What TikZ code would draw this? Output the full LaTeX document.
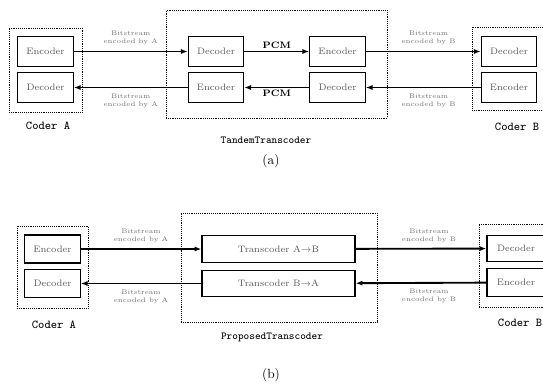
\documentclass[tikz,border=0pt]{standalone}
\usepackage{amsmath}
\usepackage{tikz}
\usetikzlibrary{arrows.meta,positioning,fit}

\begin{document}
\begin{tikzpicture}[
  x=0.75pt, y=-0.75pt,
  box/.style={draw, line width=0.9pt, inner sep=1pt, font=\scriptsize,
              text=black!65, minimum width=41.5pt, minimum height=23pt},
  wide/.style={box, minimum width=114.75pt, minimum height=20pt},
  frame/.style={draw, densely dotted, inner sep=0pt},
  arr/.style={-{Latex[length=1.8mm]}, line width=1.4pt},
  note/.style={align=center, font=\tiny, text=black!55, inner sep=1pt},
  pcm/.style={font=\scriptsize\bfseries, inner sep=1.5pt},
  coderlbl/.style={font=\small\ttfamily},
  sub/.style={font=\normalsize}
]
\useasboundingbox (0,0) rectangle (543,387);

% (a) tandem transcoding
\node[box] (encA) at (45.5,51.5) {Encoder};
\node[box] (decA) at (45.5,87.5) {Decoder};
\node[frame, fit={(9,28) (82,112)}] (frmA) {};
\node[coderlbl] (lblA) at (48,126) {Coder A};

\node[box] (tl) at (216,51.5) {Decoder};
\node[box] (bl) at (216,87.5) {Encoder};
\node[box] (tr) at (337.5,51.5) {Encoder};
\node[box] (br) at (337.5,87.5) {Decoder};
\node[frame, fit={(166,10) (387,118)}] (frmT) {};
\node[coderlbl, font=\footnotesize\ttfamily] (lblT) at (266,140) {TandemTranscoder};

\node[box] (decB) at (509,51.5) {Decoder};
\node[box] (encB) at (509,87.5) {Encoder};
\node[frame, fit={(472,27) (560,110)}] (frmB) {};
\node[coderlbl] (lblB) at (517,127) {Coder B};

\draw[arr] (encA) -- node[note, above=3pt] {Bitstream\\encoded by A} (tl);
\draw[arr] (bl) -- node[note, below=3pt] {Bitstream\\encoded by A} (decA);
\draw[arr] (tl) -- node[pcm, above] {PCM} (tr);
\draw[arr] (br) -- node[pcm, below] {PCM} (bl);
\draw[arr] (tr) -- node[note, above=3pt, xshift=4pt] {Bitstream\\encoded by B} (decB);
\draw[arr] (encB) -- node[note, below=3pt, xshift=4pt] {Bitstream\\encoded by B} (br);

\node[sub] (capa) at (271,161) {(a)};

% (b) proposed transcoding
\node[box, minimum height=21pt] (encA2) at (52.5,249) {Encoder};
\node[box, minimum height=21pt] (decA2) at (52.5,283.5) {Decoder};
\node[frame, fit={(17,226) (88,308)}] (frmA2) {};
\node[coderlbl] (lblA2) at (54,325) {Coder A};

\node[wide] (tAB) at (278.5,249) {Transcoder A$\rightarrow$B};
\node[wide] (tBA) at (278.5,283.5) {Transcoder B$\rightarrow$A};
\node[frame, fit={(181,213) (377,322)}] (frmP) {};
\node[coderlbl, font=\footnotesize\ttfamily] (lblP) at (272,337) {ProposedTranscoder};

\node[box, minimum width=43.5pt, minimum height=20pt] (decB2) at (516,248.5) {Decoder};
\node[box, minimum width=43.5pt, minimum height=21.5pt] (encB2) at (516,282.5) {Encoder};
\node[frame, fit={(479,224) (560,307)}] (frmB2) {};
\node[coderlbl] (lblB2) at (520,323) {Coder B};

\draw[arr] (encA2) -- node[note, above=3pt] {Bitstream\\encoded by A} (tAB);
\draw[arr] (tBA) -- node[note, below=3pt] {Bitstream\\encoded by A} (decA2);
\draw[arr] (tAB) -- node[note, above=3pt, xshift=6pt] {Bitstream\\encoded by B} (decB2);
\draw[arr] (encB2) -- node[note, below=3pt, xshift=6pt] {Bitstream\\encoded by B} (tBA);

\node[sub] (capb) at (271,375) {(b)};
\end{tikzpicture}
\end{document}
